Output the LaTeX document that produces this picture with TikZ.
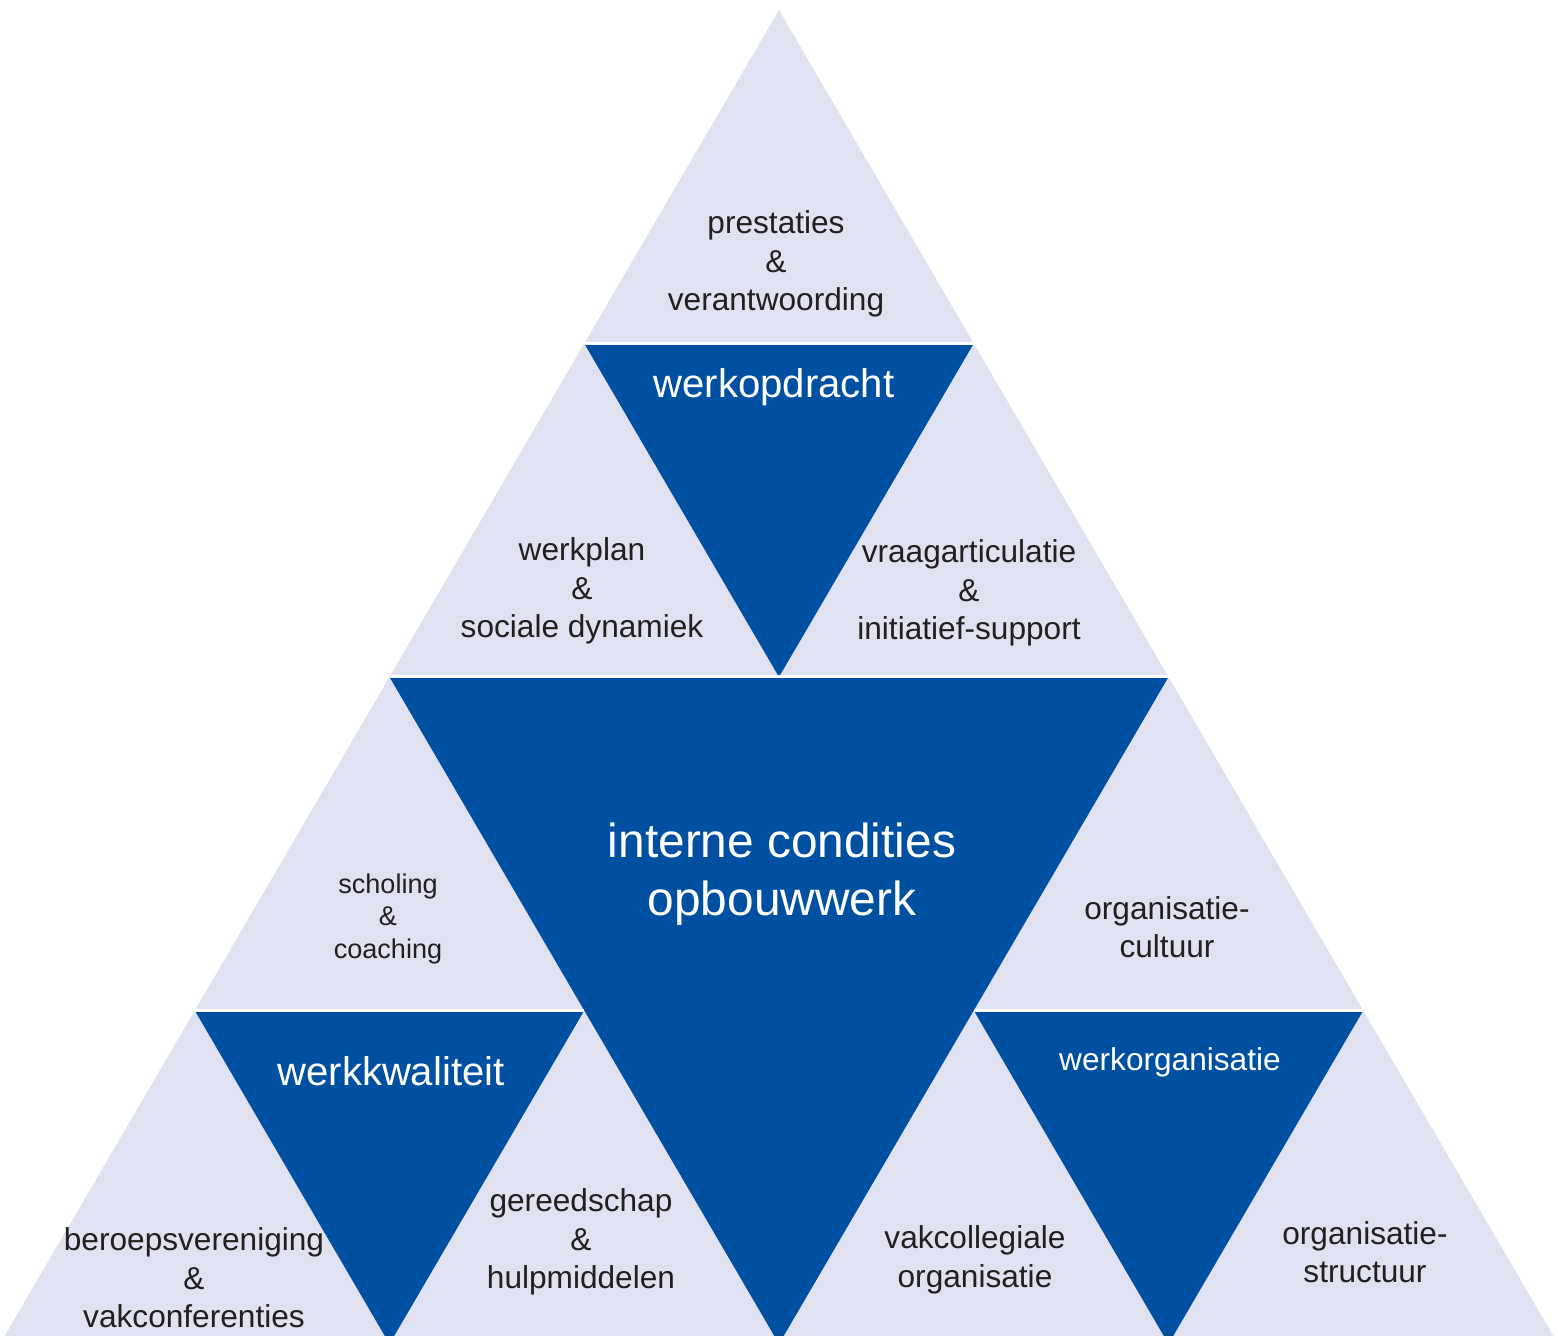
\documentclass[tikz,border=0pt]{standalone}
\usepackage{fontspec}
\setmainfont{Liberation Sans}
\usepackage{tikz}
\usetikzlibrary{positioning}

\definecolor{lichtblauw}{RGB}{224,226,242}
\definecolor{donkerblauw}{RGB}{0,80,162}
\definecolor{tekstgrijs}{RGB}{35,31,32}

\tikzset{
    licht/.style={fill=lichtblauw},
    donker/.style={fill=donkerblauw},
    naad/.style={white, line width=0.3mm},
    tekst/.style={align=center, text=tekstgrijs, inner sep=0pt, font=\fontsize{9}{10.95}\selectfont},
    klein/.style={tekst, font=\fontsize{7.7}{9.2}\selectfont},
    kop/.style={align=center, text=white, inner sep=0pt, font=\fontsize{11.4}{13.5}\selectfont},
    groot/.style={kop, font=\fontsize{13.6}{16.5}\selectfont},
}

\begin{document}
\begin{tikzpicture}
        \useasboundingbox (0, 0) rectangle (15.58, 13.36);

        % Points (row by row, top to bottom)
        \coordinate (p00) at (7.79, 13.26);
        \coordinate (p10) at (5.8425, 9.925);
        \coordinate (p11) at (9.7375, 9.925);
        \coordinate (p20) at (3.895, 6.59);
        \coordinate (p21) at (7.79, 6.59);
        \coordinate (p22) at (11.685, 6.59);
        \coordinate (p30) at (1.9475, 3.255);
        \coordinate (p31) at (5.8425, 3.255);
        \coordinate (p32) at (9.7375, 3.255);
        \coordinate (p33) at (13.6325, 3.255);
        \coordinate (p40) at (0, -0.08);
        \coordinate (p41) at (3.895, -0.08);
        \coordinate (p42) at (7.79, -0.08);
        \coordinate (p43) at (11.685, -0.08);
        \coordinate (p44) at (15.58, -0.08);

        % Light background
        \fill[licht] (p00) -- (p40) -- (p44) -- cycle;

        % Dark triangles
        \fill[donker] (p10) -- (p11) -- (p21) -- cycle;
        \fill[donker] (p20) -- (p22) -- (p42) -- cycle;
        \fill[donker] (p30) -- (p31) -- (p41) -- cycle;
        \fill[donker] (p32) -- (p33) -- (p43) -- cycle;

        % Seams between the rows
        \draw[naad] (p10) -- (p11);
        \draw[naad] (p20) -- (p22);
        \draw[naad] (p30) -- (p31);
        \draw[naad] (p32) -- (p33);

        % Labels
        \node[tekst] (prestaties) at (7.76, 10.72) {prestaties\\\&\\verantwoording};
        \node[kop] (werkopdracht) at (7.74, 9.49) {werkopdracht};
        \node[tekst] (werkplan) at (5.82, 7.45) {werkplan\\\&\\sociale dynamiek};
        \node[tekst] (vraag) at (9.69, 7.43) {vraagarticulatie\\\&\\initiatief-support};
        \node[groot] (interne) at (7.82, 4.62) {interne condities\\opbouwwerk};
        \node[klein] (scholing) at (3.88, 4.17) {scholing\\\&\\coaching};
        \node[tekst] (cultuur) at (11.67, 4.09) {organisatie-\\cultuur};
        \node[kop] (werkkwaliteit) at (3.91, 2.65) {werkkwaliteit};
        \node[tekst, text=white] (werkorganisatie) at (11.70, 2.74) {werkorganisatie};
        \node[tekst] (beroeps) at (1.94, 0.58) {beroepsvereniging\\\&\\vakconferenties};
        \node[tekst] (gereedschap) at (5.81, 0.94) {gereedschap\\\&\\hulpmiddelen};
        \node[tekst] (vakcollegiaal) at (9.75, 0.76) {vakcollegiale\\organisatie};
        \node[tekst] (structuur) at (13.65, 0.84) {organisatie-\\structuur};

    \end{tikzpicture}
\end{document}
